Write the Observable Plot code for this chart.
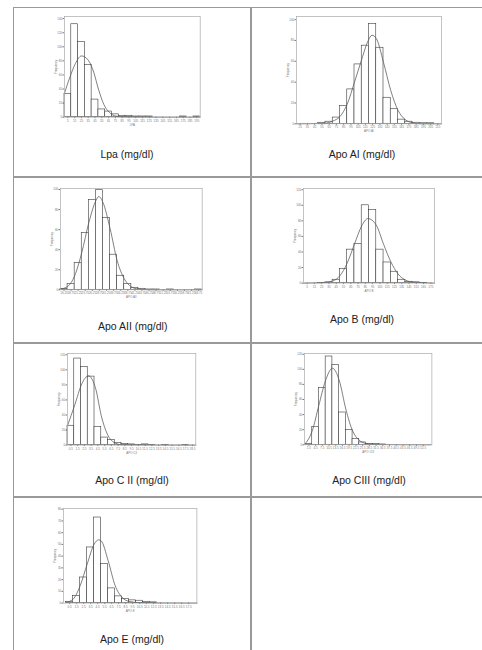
<!DOCTYPE html>
<html><head><meta charset="utf-8">
<script src="https://cdn.jsdelivr.net/npm/d3@7"></script>
<script src="https://cdn.jsdelivr.net/npm/@observablehq/plot@0.6"></script>
<style>
html,body{margin:0;padding:0;background:#fff;}
#page{position:relative;width:482px;height:650px;overflow:hidden;background:#fff;font-family:"Liberation Sans",Arial,sans-serif;}
.hl{position:absolute;height:1.5px;background:#999;}
.vl{position:absolute;width:1.5px;background:#999;}
.cap{position:absolute;width:160px;text-align:center;font-size:10.5px;color:#222;line-height:12px;white-space:nowrap;}
</style></head><body><div id="page"></div>
<script>
// ---- data ----
const panelNames = ["Lpa (mg/dl)", "Apo AI (mg/dl)", "Apo AII (mg/dl)", "Apo B (mg/dl)", "Apo C II (mg/dl)", "Apo CIII (mg/dl)", "Apo E (mg/dl)"];
const axisNames = ["LPA", "APO AI", "APO AII", "APO B", "APO CII", "APO CIII", "APO E"];

const lpaCounts = [33,132,107,74,25,11,8,4,2,2,1,1,1,0,0,0,0,1,0,1];
const lpaTicks = [5,15,25,35,45,55,65,75,85,95,105,115,125,135,145,155,165,175,185,195];
const lpaYTicks = [0,20,40,60,80,100,120,140];
const lpaCurveX = [0,8,16,25,35,43,50,58,66,76,90,200];
const lpaCurveY = [34,57,76,87,81,64,40,18,7,1.5,0.3,0];

const apoAICounts = [0,0,0,1,2,6,17,33,57,75,96,73,25,14,4,2,1,0.5,0.5,0];
const apoAITicks = [25,35,45,55,65,75,85,95,105,115,125,135,145,155,165,175,185,195,205,215];
const apoAIYTicks = [0,20,40,60,80,100];
const apoAICurveX = [20,59,70,80,90,100,110,119,124,130,140,150,160,170,180,192,220];
const apoAICurveY = [0,0.6,2.6,7,19,40,62,80,85,82,59,32,13,4,1,0,0];

const apoAIICounts = [0.7,5.7,26.7,56.7,89.7,99.3,71.7,35,14,5.7,2,1,0.3,0.3,0,0.3,0,0,0,0.3];
const apoAIITicks = [16.25,18.75,21.25,23.75,26.25,28.75,31.25,33.75,36.25,38.75,41.25,43.75,46.25,48.75,51.25,53.75,56.25,58.75,61.25,63.75];
const apoAIIYTicks = [0,20,40,60,80,100];
const apoAIICurveX = [15,17.5,20,22.5,25,27.5,28.5,30,32.5,35,37.5,40,42.5,47,65];
const apoAIICurveY = [0.7,3.3,14,37,67,89,93,87,61,29,11,3,0.7,0,0];

const apoBCounts = [0,0,0.3,0.9,4.3,18,43,50,100,94,43,26.5,14.6,4.3,1.7,0.9,0.4,0];
const apoBTicks = [5,15,25,35,45,55,65,75,85,95,105,115,125,135,145,155,165,175];
const apoBYTicks = [0,20,40,60,80,100,120];
const apoBCurveX = [0,30,40,50,60,70,80,88.5,100,110,120,130,140,150,180];
const apoBCurveY = [0,0.9,2.6,9.4,25.7,50,73.6,83,74.5,50,27.4,11.6,3.9,1.3,0];

const apoCIICounts = [25.7,115,104,91,24.3,10,6.6,2.6,1.3,0.9,0.4,0.9,0.4,0,0.4,0,0,0.4,0];
const apoCIITicks = [0.5,1.5,2.5,3.5,4.5,5.5,6.5,7.5,8.5,9.5,10.5,11.5,12.5,13.5,14.5,15.5,16.5,17.5,18.5];
const apoCIIYTicks = [0,20,40,60,80,100,120];
const apoCIICurveX = [0,1.1,2.1,3.1,4.2,5,5.9,6.9,8.1,19];
const apoCIICurveY = [25.7,54,81,92,74,39,14.6,3.5,0.4,0];

const apoCIIICounts = [0.9,23.8,75.5,117,106,42.8,19.4,7.5,3.1,1.3,0.9,0.4,0,0,0,0,0,0];
const apoCIIITicks = [1.5,4.5,7.5,10.5,13.5,16.5,19.5,22.5,25.5,28.5,31.5,34.5,37.5,40.5,43.5,46.5,49.5,52.5];
const apoCIIIYTicks = [0,20,40,60,80,100,120];
const apoCIIICurveX = [0,3,5.9,8.9,12,15.1,18,21,23.9,26.9,30.6,56];
const apoCIIICurveY = [1.8,18.5,51.7,84.8,101.5,84.8,47.2,18.5,6.2,1.8,0.4,0];

const apoECounts = [1.1,6.2,21.8,47.4,72.9,33.2,12.5,5.7,3.4,2.3,2,1.1,0.6,0,0,0,0,0];
const apoETicks = [0.5,1.5,2.5,3.5,4.5,5.5,6.5,7.5,8.5,9.5,10.5,11.5,12.5,13.5,14.5,15.5,16.5,17.5];
const apoEYTicks = [0,10,20,30,40,50,60,70,80];
const apoECurveX = [0,1,2,3,4,4.6,5,6,7,8,9,10.6,18.7];
const apoECurveY = [0.6,3.4,14.8,33.2,50.2,53.9,53,36,14.8,4.8,1.4,0.3,0];

// ---- panel set-up (data + scale settings) ----
const panels = [
  {counts: lpaCounts, start: 0, width: 10, ticks: lpaTicks, yTicks: lpaYTicks, cx: lpaCurveX, cy: lpaCurveY, xDomain: [0,200], yMax: 143},
  {counts: apoAICounts, start: 20, width: 10, ticks: apoAITicks, yTicks: apoAIYTicks, cx: apoAICurveX, cy: apoAICurveY, xDomain: [20,220], yMax: 103},
  {counts: apoAIICounts, start: 15, width: 2.5, ticks: apoAIITicks, yTicks: apoAIIYTicks, cx: apoAIICurveX, cy: apoAIICurveY, xDomain: [15,65], yMax: 101},
  {counts: apoBCounts, start: 0, width: 10, ticks: apoBTicks, yTicks: apoBYTicks, cx: apoBCurveX, cy: apoBCurveY, xDomain: [0,180], yMax: 121.6},
  {counts: apoCIICounts, start: 0, width: 1, ticks: apoCIITicks, yTicks: apoCIIYTicks, cx: apoCIICurveX, cy: apoCIICurveY, xDomain: [0,19], yMax: 121.7},
  {counts: apoCIIICounts, start: 0, width: 3, ticks: apoCIIITicks, yTicks: apoCIIIYTicks, cx: apoCIIICurveX, cy: apoCIIICurveY, xDomain: [-0.45,56.4], yMax: 121},
  {counts: apoECounts, start: 0, width: 1, ticks: apoETicks, yTicks: apoEYTicks, cx: apoECurveX, cy: apoECurveY, xDomain: [-0.38,18.67], yMax: 80.6}
];

// ---- layout (page pixels) ----
const frames = [
  {L: 64.3, R: 200, T: 16, B: 116.7, capX: 127, capY: 154},
  {L: 296, R: 441, T: 16, B: 123.3, capX: 362, capY: 154},
  {L: 60, R: 201.7, T: 187.7, B: 289, capX: 132.7, capY: 326.7},
  {L: 302.7, R: 433.7, T: 187.7, B: 282.3, capX: 362, capY: 319},
  {L: 66.7, R: 195, T: 352.7, B: 444.3, capX: 132, capY: 480},
  {L: 304.3, R: 431.7, T: 352.7, B: 444, capX: 369, capY: 480},
  {L: 63.3, R: 196.7, T: 507.7, B: 602.3, capX: 132, capY: 639}
];

const page = document.getElementById("page");
function line(cls, css) { const d = document.createElement("div"); d.className = cls; Object.assign(d.style, css); page.appendChild(d); }
line("hl", {left: "12.5px", top: "6.5px", width: "470px"});
line("hl", {left: "12.5px", top: "176px", width: "470px"});
line("hl", {left: "12.5px", top: "342.3px", width: "470px"});
line("hl", {left: "12.5px", top: "496px", width: "470px"});
line("vl", {left: "12.5px", top: "6.5px", height: "644px"});
line("vl", {left: "250px", top: "6.5px", height: "644px"});

const fmt = d3.format("~g");
panels.forEach((p, k) => {
  const f = frames[k];
  const bins = p.counts.map((c, i) => ({x1: p.start + i * p.width, x2: p.start + (i + 1) * p.width, y: c}));
  const curve = p.cx.map((x, i) => ({x, y: p.cy[i]}));
  const mL = 12, mR = 2, mT = 2, mB = 12;
  const fw = f.R - f.L, fh = f.B - f.T;
  const svg = Plot.plot({
    width: fw + mL + mR, height: fh + mT + mB,
    marginLeft: mL, marginRight: mR, marginTop: mT, marginBottom: mB,
    style: {fontSize: "3px", fontFamily: "Liberation Sans, Arial, sans-serif", color: "#777", background: "transparent", overflow: "visible"},
    x: {domain: p.xDomain, ticks: p.ticks, tickFormat: fmt, tickSize: 1.5, tickPadding: 0.8, label: axisNames[k], labelAnchor: "center", labelOffset: 8.5, labelArrow: false},
    y: {domain: [0, p.yMax], ticks: p.yTicks, tickSize: 1.5, tickPadding: 0.8, label: "Frequency", labelAnchor: "center", labelOffset: 9.5, labelArrow: false},
    marks: [
      Plot.rectY(bins, {x1: "x1", x2: "x2", y: "y", fill: "#fff", stroke: "#3a3a3a", strokeWidth: 0.6}),
      Plot.line(curve, {x: "x", y: "y", curve: "monotone-x", stroke: "#555", strokeWidth: 0.75}),
      Plot.frame({stroke: "#aaa", strokeWidth: 0.7})
    ]
  });
  svg.style.position = "absolute";
  svg.style.left = (f.L - mL) + "px";
  svg.style.top = (f.T - mT) + "px";
  page.appendChild(svg);
  const cap = document.createElement("div");
  cap.className = "cap";
  cap.textContent = panelNames[k];
  cap.style.left = (f.capX - 80) + "px";
  cap.style.top = (f.capY - 6.5) + "px";
  page.appendChild(cap);
});
</script></body></html>
